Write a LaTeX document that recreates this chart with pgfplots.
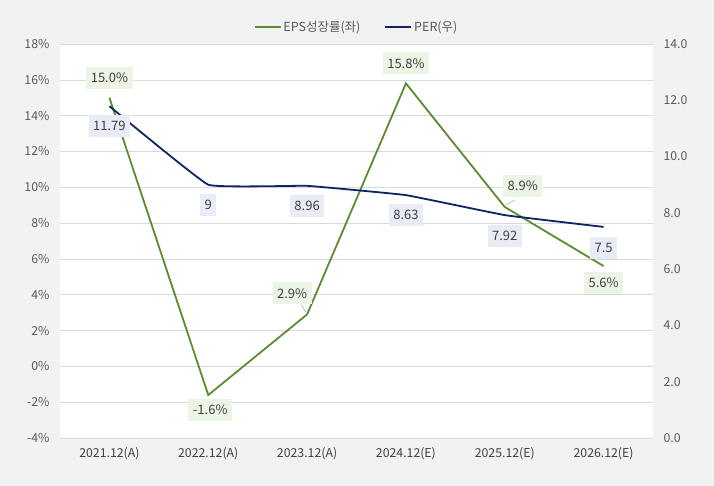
\documentclass[border=0pt]{standalone}
\usepackage{pgfplots}
\usepackage{pgfplotstable}
\pgfplotsset{compat=1.18}
\usepackage{fontspec}
\setmainfont{Noto Sans CJK KR}
\definecolor{eps}{HTML}{5B8C32}
\definecolor{per}{HTML}{0E2463}
\definecolor{bg}{HTML}{F2F2F2}
\definecolor{gridc}{HTML}{D9D9D9}
\definecolor{tickc}{HTML}{595959}
\definecolor{lblc}{HTML}{404040}
\definecolor{epsbg}{HTML}{ECF4E6}
\definecolor{perbg}{HTML}{E7ECF6}
\pgfplotstableread{
x y dx dy lab
0 15.0 0 20 15.0
1 -1.6 2 -15 -1.6
2 2.9 -15 21 2.9
3 15.8 0 20 15.8
4 8.9 18 21 8.9
5 5.6 0 -17 5.6
}\epsdata
\pgfplotstableread{
x y dx dy lab
0 11.79 0 -20 11.79
1 9.00 0 -20 9
2 8.96 0 -20 8.96
3 8.63 0 -20 8.63
4 7.92 0 -21 7.92
5 7.5 0 -21 7.5
}\perdata
\begin{document}
\begin{tikzpicture}
\fill[bg] (0,0) rectangle (714pt,486pt);
\pgfplotsset{
  common/.style={
    scale only axis, width=593pt, height=394pt,
    at={(60pt,48pt)}, anchor=south west,
    xmin=-0.5, xmax=5.5, clip=false,
    axis line style={draw=none}, tick style={draw=none},
    ticklabel style={font=\fontsize{12.3}{14}\selectfont, text=tickc},
    /pgf/number format/assume math mode=true,
  }
}
\begin{axis}[common,
  axis background/.style={fill=white},
  ymin=-4, ymax=18, ytick={-4,-2,...,18},
  yticklabel={\pgfmathprintnumber{\tick}\%},
  ymajorgrids, major grid style={gridc, line width=0.6pt},
  xtick={0,...,5},
  xticklabels={2021.12(A),2022.12(A),2023.12(A),2024.12(E),2025.12(E),2026.12(E)},
  xticklabel style={text=lblc, yshift=-6pt},
  yticklabel style={xshift=-7pt},
]
\addplot[eps, line width=1.8pt] table[x=x,y=y] \epsdata;
\draw[gray!70, line width=0.5pt] (axis cs:2,2.9) ++(-1pt,2pt) -- ++(-5pt,8pt);
\draw[gray!70, line width=0.5pt] (axis cs:4,8.9) ++(1pt,2pt) -- ++(9pt,5pt);
\addplot[draw=none, mark=none,
  point meta=explicit symbolic,
  visualization depends on={\thisrow{dx}\as\dx},
  visualization depends on={\thisrow{dy}\as\dy},
  nodes near coords={\pgfplotspointmeta\%},
  every node near coord/.append style={anchor=center, xshift=\dx pt, yshift=\dy pt,
    fill=epsbg, text=lblc, font=\fontsize{13}{15}\selectfont, inner xsep=4.5pt, inner ysep=6pt},
] table[x=x,y=y,meta=lab] \epsdata;
\end{axis}
\begin{axis}[common,
  axis x line=none,
  axis y line*=right,
  ymin=0, ymax=14, ytick={0,2,...,14},
  yticklabel style={/pgf/number format/fixed, /pgf/number format/fixed zerofill, /pgf/number format/precision=1, xshift=7pt},
  legend style={at={(0.5,1)}, anchor=south, yshift=7pt, draw=none, fill=none,
    font=\fontsize{12.5}{14}\selectfont, text=tickc, legend columns=2,
    /tikz/every even column/.append style={column sep=22pt}},
  legend image code/.code={\draw[#1] (0pt,0pt) -- (26pt,0pt);},
]
\addlegendimage{eps, line width=1.8pt}
\addlegendentry{EPS성장률(좌)}
\addplot[per, line width=1.8pt, smooth, tension=0.15] table[x=x,y=y] \perdata;
\addlegendentry{PER(우)}
\addplot[draw=none, mark=none, forget plot,
  point meta=explicit symbolic,
  visualization depends on={\thisrow{dx}\as\dx},
  visualization depends on={\thisrow{dy}\as\dy},
  nodes near coords={\pgfplotspointmeta},
  every node near coord/.append style={anchor=center, xshift=\dx pt, yshift=\dy pt,
    fill=perbg, text=lblc, font=\fontsize{13}{15}\selectfont, inner xsep=4.5pt, inner ysep=6pt},
] table[x=x,y=y,meta=lab] \perdata;
\end{axis}
\end{tikzpicture}
\end{document}
